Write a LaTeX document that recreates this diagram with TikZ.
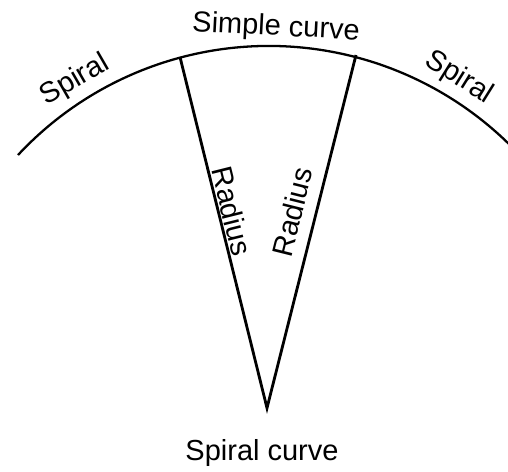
\documentclass[tikz,border=0pt]{standalone}
\usepackage{fontspec}
\setmainfont{Liberation Sans}
\tikzset{
  crv/.style={line width=1.3pt},
  rad/.style={line width=1.6pt},
  lbl/.style={inner sep=0pt,font=\fontsize{16.5}{19}\selectfont}
}
\begin{document}
\begin{tikzpicture}[x=0.02cm,y=-0.02cm]
\useasboundingbox (0,0) rectangle (508,471);
\coordinate (ctr) at (268,388);
\coordinate (sA) at (18,155);
\coordinate (tL) at (180,57);
\coordinate (tR) at (356,55);
\coordinate (apx) at (267,408);
\draw[crv] (sA) arc[start angle=-137, end angle=-45.5, radius=343] coordinate (sE);
\draw[rad,line join=miter] (tL) -- (apx) -- (tR);
\node[lbl,rotate=-3] (simp) at (276,28) {Simple curve};
\node[lbl,rotate=30] (spL) at (75,80) {Spiral};
\node[lbl,rotate=-32] (spR) at (459,78) {Spiral};
\node[lbl,rotate=-76] (radL) at (232,211) {Radius};
\node[lbl,rotate=76] (radR) at (292,212) {Radius};
\node[lbl] (spc) at (262,453) {Spiral curve};
\end{tikzpicture}
\end{document}
